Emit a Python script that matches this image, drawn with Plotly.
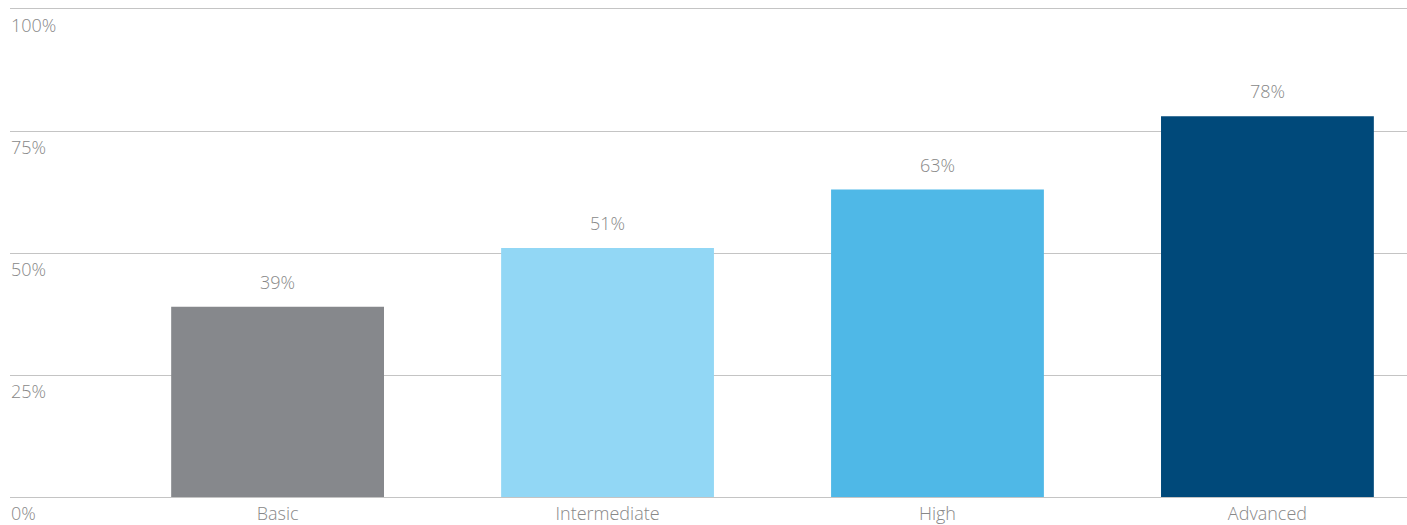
import plotly.graph_objects as go

categories = ["Basic", "Intermediate", "High", "Advanced"]
values = [39, 51, 63, 78]
bar_colors = ["#86888c", "#92d7f5", "#4fb8e7", "#00497a"]
y_ticks = [0, 25, 50, 75, 100]
y_tick_labels = ["0%", "25%", "50%", "75%", "100%"]

FONT = "Open Sans"
TXT = "#888888"
GRID = "#c4c4c4"

fig = go.Figure()
fig.add_trace(go.Bar(
    x=list(range(len(categories))),
    y=values,
    marker=dict(color=bar_colors, line=dict(width=0)),
    width=0.645,
    hoverinfo="skip",
))

for i, v in enumerate(values):
    fig.add_annotation(
        x=i, y=v, text=f"{v}%", showarrow=False,
        yanchor="middle", yshift=25,
        font=dict(family=FONT, size=18, color=TXT, weight=300),
    )

# y-axis labels sit just below their gridlines, left-aligned
for t, lab in zip(y_ticks, y_tick_labels):
    fig.add_annotation(
        xref="paper", x=0, y=t, text=lab, showarrow=False,
        xanchor="left", yanchor="top", yshift=-3, borderpad=0,
        font=dict(family=FONT, size=18, color=TXT, weight=300),
    )

fig.update_layout(
    width=1407, height=525,
    margin=dict(l=10, r=0, t=9, b=28),
    paper_bgcolor="white", plot_bgcolor="white",
    showlegend=False,
    font=dict(family=FONT, size=18, color=TXT, weight=300),
    xaxis=dict(
        tickmode="array",
        tickvals=list(range(len(categories))),
        ticktext=categories,
        range=[-0.811, 3.423],
        showgrid=False, zeroline=False,
        showline=True, mirror=True, linecolor=GRID, linewidth=1,
        ticks="", ticklen=0,
        ticklabelstandoff=0,
        automargin=False,
        tickfont=dict(family=FONT, size=18, color=TXT, weight=300),
    ),
    yaxis=dict(
        range=[0, 100],
        tickmode="array",
        tickvals=y_ticks,
        showticklabels=False,
        showgrid=True, gridcolor=GRID, gridwidth=1,
        zeroline=False, showline=False,
        ticks="",
        automargin=False,
    ),
)

fig.write_html("out.html")
